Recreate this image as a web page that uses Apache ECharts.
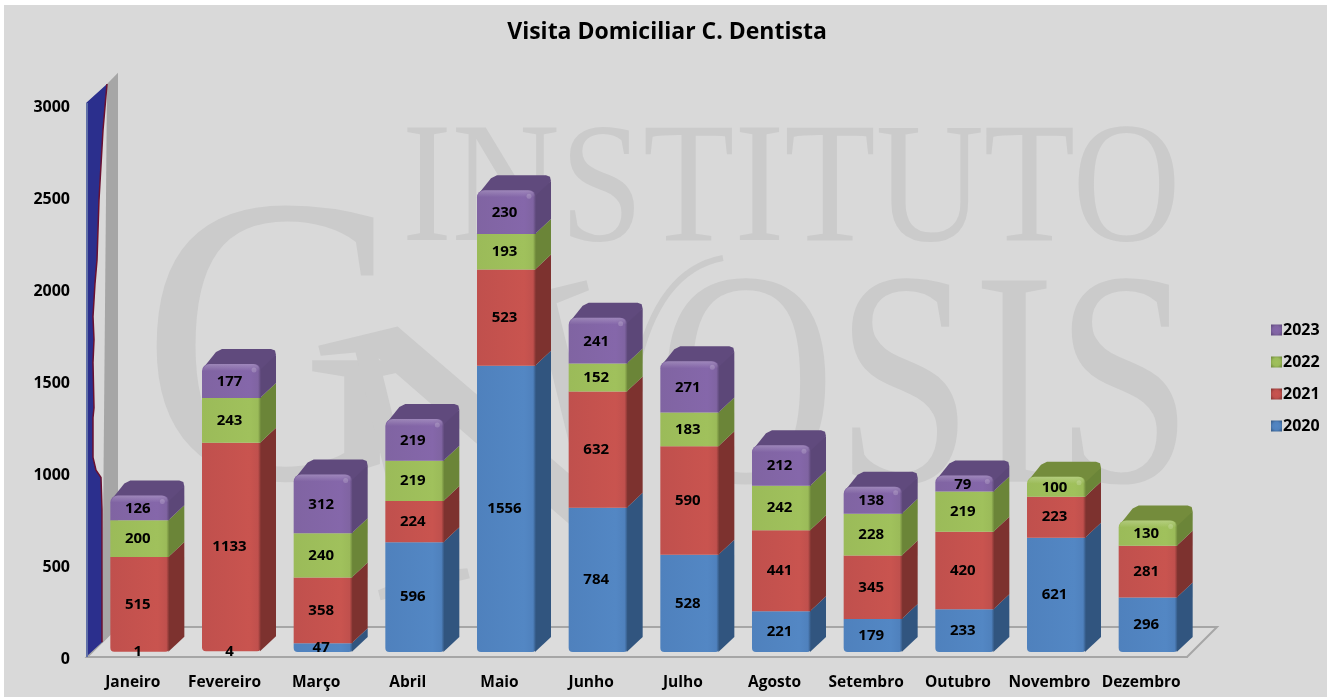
<!DOCTYPE html>
<html>
<head>
<meta charset="utf-8">
<title>Visita Domiciliar C. Dentista</title>
<script src="https://cdn.jsdelivr.net/npm/echarts@6/dist/echarts.min.js"></script>
<style>
html, body { margin: 0; padding: 0; background: #fff; }
#main { width: 1331px; height: 697px; }
</style>
</head>
<body>
<div id="main"></div>
<script>
var months = ['Janeiro', 'Fevereiro', 'Março', 'Abril', 'Maio', 'Junho', 'Julho', 'Agosto', 'Setembro', 'Outubro', 'Novembro', 'Dezembro'];
var years = ['2020', '2021', '2022', '2023'];
var v2020 = [1, 4, 47, 596, 1556, 784, 528, 221, 179, 233, 621, 296];
var v2021 = [515, 1133, 358, 224, 523, 632, 590, 441, 345, 420, 223, 281];
var v2022 = [200, 243, 240, 219, 193, 152, 183, 242, 228, 219, 100, 130];
var v2023 = [126, 177, 312, 219, 230, 241, 271, 212, 138, 79, null, null];
var yearValues = [v2020, v2021, v2022, v2023];
// [valor no eixo, deslocamento em px] da borda azul na parede
var wallEdge = [[3114, 20], [2864, 16], [2484, 12], [2157, 10], [2030, 8], [1850, 6], [1725, 7], [1600, 6], [1475, 6.5], [1355, 7], [1300, 6], [1085, 6], [1015, 9], [975, 14], [800, 15], [80, 15]];

var front = ['#4f81bd', '#c0504d', '#9bbb59', '#8064a2'];
var light = ['#5387c4', '#c9544f', '#a0c15c', '#8567aa'];
var side = ['#31557f', '#7d322f', '#6b8538', '#5c4778'];
var topFace = ['#31557f', '#7d322f', '#748c3c', '#604a7d'];

var fontName = '"Open Sans", sans-serif';
var depth = 15, lift = 5;

function barItem(params, api) {
    var s = params.seriesIndex - 1;
    var i = api.value(0);
    var p0 = api.coord([i, api.value(1)]);
    var p1 = api.coord([i, api.value(2)]);
    var x0 = p0[0] - 22.5, x1 = x0 + 59;
    var yb = p0[1] - lift, yt = p1[1] - lift;
    var isTop = api.value(4) === 1, isBottom = api.value(1) < 5;
    var labelY = (yb + yt) / 2;
    var tiny = yb - yt < 2;
    if (isTop) yt -= 1.5;
    var r = [isTop ? 7 : 0, isTop ? 7 : 0, isBottom ? 4 : 0, isBottom ? 4 : 0];
    var children = [];
    if (!tiny) {
        children.push({
            type: 'polygon',
            shape: { points: [[x1 - 1, yb], [x1 + depth, yb - depth], [x1 + depth, yt - depth + (isTop ? 6 : 0)], [x1 - 1, yt]] },
            style: { fill: side[s] }
        });
        if (isTop) {
            children.push({
                type: 'polygon',
                shape: { points: [[x0 + 2, yt + 3], [x0 + depth - 1, yt - depth + 3], [x0 + depth + 5, yt - depth], [x1 + depth - 5, yt - depth], [x1 + depth - 1, yt - depth + 1.5], [x1 + depth, yt - depth + 6], [x1 - 2, yt + 7]] },
                style: { fill: topFace[s] }
            });
        }
        children.push({
            type: 'rect',
            shape: { x: x0, y: yt, width: x1 - x0, height: yb - yt, r: r },
            style: {
                fill: new echarts.graphic.LinearGradient(0, 0, 1, 0, [
                    { offset: 0, color: front[s] },
                    { offset: 0.8, color: light[s] },
                    { offset: 0.95, color: front[s] },
                    { offset: 1, color: side[s] }
                ])
            }
        });
    }
    if (isTop) {
        children.push({
            type: 'rect',
            shape: { x: x0 + 1, y: yt, width: x1 - x0 - 2, height: 7, r: [7, 7, 0, 0] },
            style: {
                fill: new echarts.graphic.LinearGradient(0, 0, 0, 1, [
                    { offset: 0, color: 'rgba(255,255,255,0.22)' },
                    { offset: 1, color: 'rgba(255,255,255,0)' }
                ])
            }
        });
        children.push({
            type: 'circle',
            shape: { cx: x1 - 7, cy: yt + 6, r: 2.5 },
            style: { fill: 'rgba(255,255,255,0.18)' }
        });
    }
    children.push({
        type: 'text',
        z2: 100,
        style: {
            x: (x0 + x1) / 2 - 2,
            y: labelY,
            text: String(api.value(3)),
            font: 'bold 15px ' + fontName,
            fill: '#000',
            align: 'center',
            verticalAlign: 'middle'
        }
    });
    return { type: 'group', children: children };
}

function wallItem(params, api) {
    var cs = params.coordSys;
    var x = cs.x, y0 = cs.y + cs.height;
    var back = 30;
    var yAt = function (v) { return api.coord([0, v])[1]; };
    var edge = wallEdge.map(function (d) { return [x + d[1], yAt(d[0])]; });
    var blue = [[x - 1, yAt(3000) - 2]].concat(edge).concat([[x - 1, y0]]);
    return {
        type: 'group',
        children: [
            { type: 'polygon', shape: { points: [[x, y0], [x + back, y0 - back], [cs.x + cs.width + back, y0 - back], [cs.x + cs.width, y0]] }, style: { fill: '#dcdcdc', stroke: '#a6a6a6', lineWidth: 2 } },
            { type: 'polygon', shape: { points: [[x + 20, yAt(3114)], [x + back + 1, yAt(3175)], [x + back + 1, y0 - back], [x + 15, y0 - 15]] }, style: { fill: '#a6a6a6' } },
            { type: 'polygon', shape: { points: blue }, style: { fill: '#2b2f8d' } },
            { type: 'polyline', shape: { points: edge }, style: { fill: 'none', stroke: '#6b1030', lineWidth: 1.5 } },
            { type: 'line', shape: { x1: x, y1: yAt(3000) - 2, x2: x, y2: y0 }, style: { stroke: '#5f6fa8', lineWidth: 2 } }
        ]
    };
}

var barSeries = years.map(function (year, s) {
    var rows = [];
    months.forEach(function (m, i) {
        var val = yearValues[s][i];
        if (val === null) return;
        var start = 0, above = 0;
        for (var k = 0; k < s; k++) start += yearValues[k][i] || 0;
        for (var j = s + 1; j < years.length; j++) above += yearValues[j][i] || 0;
        rows.push([i, start, start + val, val, above === 0 ? 1 : 0]);
    });
    return {
        type: 'custom',
        name: year,
        renderItem: barItem,
        encode: { x: 0, y: [1, 2] },
        itemStyle: {
            color: new echarts.graphic.RadialGradient(0.5, 0.5, 0.7, [
                { offset: 0, color: light[s] },
                { offset: 0.5, color: front[s] },
                { offset: 1, color: side[s] }
            ])
        },
        data: rows,
        animation: false
    };
});

var wallSeries = {
    type: 'custom',
    name: 'parede',
    renderItem: wallItem,
    encode: { x: 0, y: 1 },
    data: [[0, 0]],
    silent: true,
    animation: false
};

var watermark = '#cbcbcb';
var option = {
    animation: false,
    backgroundColor: '#fff',
    title: {
        text: 'Visita Domiciliar C. Dentista',
        left: 662,
        top: 16,
        textAlign: 'center',
        textStyle: { fontFamily: fontName, fontWeight: 'bold', fontSize: 23, color: '#000' }
    },
    graphic: [
        { type: 'rect', z: -10, shape: { x: 4, y: 5, width: 1323, height: 692 }, style: { fill: '#d9d9d9' } },
        { type: 'text', z: -9, x: 402, y: 195, scaleX: 0.875, style: { text: 'INSTITUTO', font: '171px "Liberation Serif"', fill: watermark, verticalAlign: 'middle' } },
        { type: 'text', z: -9, x: 141, y: 370, scaleX: 0.925, style: { text: 'G', font: '412px "Liberation Serif"', fill: watermark, verticalAlign: 'middle' } },
        { type: 'text', z: -9, x: 344, y: 501, scaleX: 1.03, rotation: 0.24, style: { text: 'N', font: '400px "Liberation Serif"', fill: watermark, verticalAlign: 'middle' } },
        { type: 'text', z: -9, x: 657, y: 401, scaleX: 0.805, style: { text: 'OSIS', font: '307px "Liberation Serif"', fill: watermark, verticalAlign: 'middle' } },
        { type: 'bezierCurve', z: -9, shape: { x1: 723, y1: 258, cpx1: 685, cpy1: 265, cpx2: 652, cpy2: 295, x2: 636, y2: 372 }, style: { fill: 'none', stroke: watermark, lineWidth: 6 } }
    ],
    legend: {
        orient: 'vertical',
        left: 1266,
        top: 317,
        itemWidth: 11,
        itemHeight: 11,
        itemGap: 16,
        icon: 'rect',
        data: ['2023', '2022', '2021', '2020'],
        textStyle: { fontFamily: fontName, fontWeight: 'bold', fontSize: 16, color: '#000', padding: [0, 0, 0, -4] }
    },
    grid: { left: 87, top: 105, width: 1100, height: 552 },
    xAxis: {
        type: 'category',
        data: months,
        axisTick: { show: false },
        axisLine: { lineStyle: { color: '#a6a6a6', width: 2 } },
        axisLabel: { margin: 18, interval: 0, fontFamily: fontName, fontWeight: 'bold', fontSize: 15.5, color: '#000' }
    },
    yAxis: {
        type: 'value',
        min: 0,
        max: 3000,
        interval: 500,
        axisLine: { show: false },
        axisTick: { show: false },
        splitLine: { show: false },
        axisLabel: { margin: 17, verticalAlign: 'top', lineHeight: 4, formatter: function (v) { return String(v); }, fontFamily: fontName, fontWeight: 'bold', fontSize: 16, color: '#000' }
    },
    series: [wallSeries].concat(barSeries)
};

var myChart = echarts.init(document.getElementById('main'));
myChart.setOption(option);
</script>
</body>
</html>
